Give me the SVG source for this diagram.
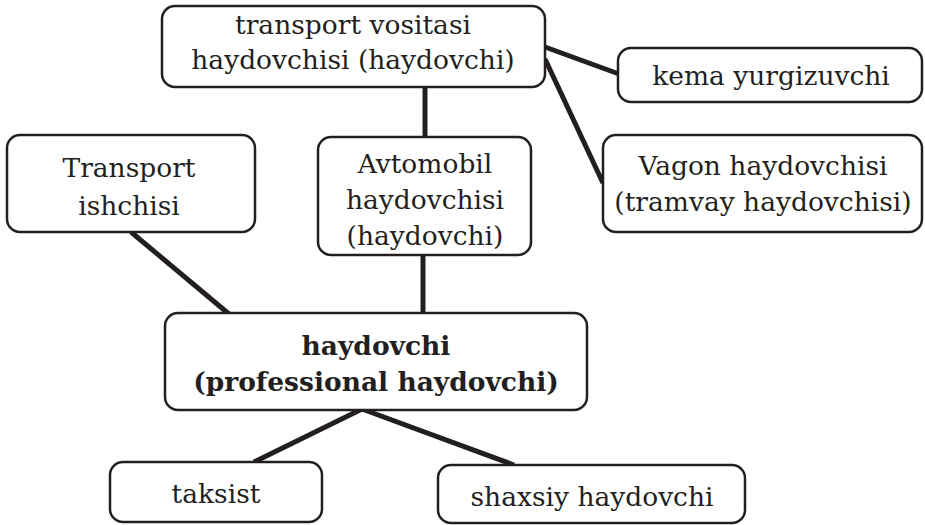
<svg xmlns="http://www.w3.org/2000/svg" width="925" height="525" viewBox="0 0 925 525">
<style>
.box{fill:#fff;stroke:#231f20;stroke-width:2.5}
.t{font-family:"DejaVu Serif","Liberation Serif",serif;font-size:26.5px;fill:#231f20;text-anchor:middle}
.b{font-weight:bold}
.c{stroke:#231f20;stroke-width:5;fill:none}
</style>
<rect width="925" height="525" fill="#fff"/>
<g id="connectors">
<line class="c" x1="425" y1="87" x2="425" y2="138"/>
<line class="c" x1="545" y1="47" x2="619" y2="74"/>
<line class="c" x1="545" y1="59" x2="603" y2="183"/>
<line class="c" x1="131" y1="232" x2="229" y2="314"/>
<line class="c" x1="423" y1="255" x2="423" y2="314"/>
<line class="c" x1="362" y1="409" x2="254" y2="462"/>
<line class="c" x1="362" y1="409" x2="514" y2="465"/>
</g>
<g id="n_top"><rect class="box" x="162" y="6" width="383" height="81" rx="13"/>
<text class="t" x="353" y="34">transport vositasi</text><text class="t" x="353" y="69">haydovchisi (haydovchi)</text></g>
<g id="n_kema"><rect class="box" x="618" y="48" width="304" height="54" rx="13"/>
<text class="t" x="771" y="85">kema yurgizuvchi</text></g>
<g id="n_vagon"><rect class="box" x="603" y="135" width="319" height="97" rx="13"/>
<text class="t" x="763" y="175">Vagon haydovchisi</text><text class="t" x="763" y="211">(tramvay haydovchisi)</text></g>
<g id="n_transport"><rect class="box" x="7" y="135" width="248" height="97" rx="13"/>
<text class="t" x="129" y="177">Transport</text><text class="t" x="129" y="215">ishchisi</text></g>
<g id="n_avto"><rect class="box" x="318" y="137" width="213" height="118" rx="13"/>
<text class="t" x="425" y="173">Avtomobil</text><text class="t" x="425" y="209">haydovchisi</text><text class="t" x="425" y="245">(haydovchi)</text></g>
<g id="n_main"><rect class="box" x="165" y="313" width="422" height="97" rx="13"/>
<text class="t b" x="376" y="355">haydovchi</text><text class="t b" x="376" y="391">(professional haydovchi)</text></g>
<g id="n_taksist"><rect class="box" x="110" y="462" width="212" height="60" rx="13"/>
<text class="t" x="216" y="503">taksist</text></g>
<g id="n_shaxsiy"><rect class="box" x="438" y="465" width="307" height="58" rx="13"/>
<text class="t" x="592" y="506">shaxsiy haydovchi</text></g>
</svg>
